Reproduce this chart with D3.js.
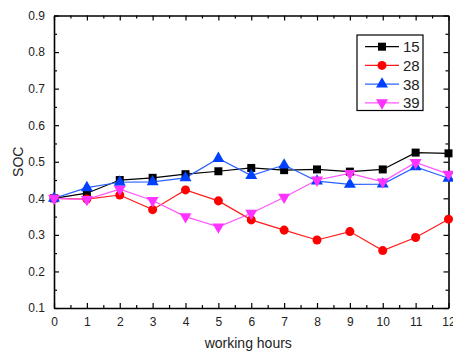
<!DOCTYPE html>
<html>
<head>
<meta charset="utf-8">
<script src="https://cdn.jsdelivr.net/npm/d3@7"></script>
<style>
  body { margin: 0; background: #fff; }
  text { font-family: "Liberation Sans", Arial, sans-serif; fill: #222; }
</style>
</head>
<body>
<div id="chart"></div>
<script>
// data
const hours = [0, 1, 2, 3, 4, 5, 6, 7, 8, 9, 10, 11, 12];
const soc15 = [0.400, 0.414, 0.450, 0.456, 0.466, 0.474, 0.483, 0.477, 0.479, 0.473, 0.479, 0.525, 0.523];
const soc28 = [0.400, 0.398, 0.409, 0.369, 0.423, 0.393, 0.341, 0.313, 0.286, 0.309, 0.257, 0.293, 0.343];
const soc38 = [0.400, 0.429, 0.444, 0.445, 0.456, 0.509, 0.462, 0.491, 0.447, 0.438, 0.439, 0.486, 0.455];
const soc39 = [0.400, 0.397, 0.425, 0.394, 0.350, 0.322, 0.359, 0.403, 0.450, 0.468, 0.445, 0.498, 0.466];
const seriesNames = ["15", "28", "38", "39"];
const yTicks = [0.1, 0.2, 0.3, 0.4, 0.5, 0.6, 0.7, 0.8, 0.9];

const series = [
  { name: seriesNames[0], values: soc15, color: "#000000", line: "#000000", shape: d3.symbolSquare, size: 64, rot: 0 },
  { name: seriesNames[1], values: soc28, color: "#ff0000", line: "#ff1a1a", shape: d3.symbolCircle, size: 64, rot: 0 },
  { name: seriesNames[2], values: soc38, color: "#0040ff", line: "#2a62ff", shape: d3.symbolTriangle, size: 62, rot: 0 },
  { name: seriesNames[3], values: soc39, color: "#ff33ff", line: "#ff55ff", shape: d3.symbolTriangle, size: 62, rot: 180 }
];

const W = 453, H = 355;
const margin = { top: 15.5, right: 4.5, bottom: 47, left: 54 },
    width = W - margin.left - margin.right,
    height = H - margin.top - margin.bottom;

const svg = d3.select("#chart")
    .append("svg")
    .attr("width", W)
    .attr("height", H)
    .append("g")
    .attr("transform", `translate(${margin.left},${margin.top})`);

const x = d3.scaleLinear().domain([0, 12]).range([0, width]);
const y = d3.scaleLinear().domain([0.1, 0.9]).range([height, 0]);

const xMinor = d3.range(0.5, 12, 1);
const yMinor = d3.range(0.15, 0.9, 0.1);

function styleAxis(g) {
  g.select(".domain").attr("stroke", "#000").attr("stroke-width", 1.6);
  g.selectAll(".tick line").attr("stroke", "#000").attr("stroke-width", 1.2);
  g.selectAll(".tick text").style("font-size", "12px").attr("fill", "#222");
}

// bottom axis (ticks inward)
svg.append("g")
    .attr("transform", `translate(0,${height})`)
    .call(d3.axisBottom(x).tickValues(hours).tickSizeInner(-5).tickSizeOuter(0).tickPadding(9).tickFormat(d3.format("d")))
    .call(styleAxis);
svg.append("g")
    .attr("transform", `translate(0,${height})`)
    .call(d3.axisBottom(x).tickValues(xMinor).tickSize(-3).tickFormat(""))
    .call(g => g.select(".domain").remove())
    .call(styleAxis);

// top axis
svg.append("g")
    .call(d3.axisTop(x).tickValues(hours).tickSizeInner(-5).tickSizeOuter(0).tickFormat(""))
    .call(styleAxis);
svg.append("g")
    .call(d3.axisTop(x).tickValues(xMinor).tickSize(-3).tickFormat(""))
    .call(g => g.select(".domain").remove())
    .call(styleAxis);

// left axis
svg.append("g")
    .call(d3.axisLeft(y).tickValues(yTicks).tickSizeInner(-5).tickSizeOuter(0).tickPadding(9).tickFormat(d3.format(".1f")))
    .call(styleAxis);
svg.append("g")
    .call(d3.axisLeft(y).tickValues(yMinor).tickSize(-3).tickFormat(""))
    .call(g => g.select(".domain").remove())
    .call(styleAxis);

// right axis
svg.append("g")
    .attr("transform", `translate(${width},0)`)
    .call(d3.axisRight(y).tickValues(yTicks).tickSizeInner(-5).tickSizeOuter(0).tickFormat(""))
    .call(styleAxis);
svg.append("g")
    .attr("transform", `translate(${width},0)`)
    .call(d3.axisRight(y).tickValues(yMinor).tickSize(-3).tickFormat(""))
    .call(g => g.select(".domain").remove())
    .call(styleAxis);

// axis titles
svg.append("text")
    .attr("x", width / 2 - 3)
    .attr("y", height + 40)
    .attr("text-anchor", "middle")
    .style("font-size", "14px")
    .text("working hours");

svg.append("text")
    .attr("transform", "rotate(-90)")
    .attr("x", -(y(0.5)))
    .attr("y", -31)
    .attr("text-anchor", "middle")
    .style("font-size", "14px")
    .text("SOC");

// lines and markers
const line = d3.line()
    .x((d, i) => x(hours[i]))
    .y(d => y(d));

series.forEach(s => {
  svg.append("path")
      .datum(s.values)
      .attr("fill", "none")
      .attr("stroke", s.line)
      .attr("stroke-width", 1.2)
      .attr("d", line);
});

series.forEach(s => {
  svg.append("g")
    .selectAll("path")
    .data(s.values)
    .join("path")
      .attr("transform", (d, i) => `translate(${x(hours[i])},${y(d)}) rotate(${s.rot})`)
      .attr("d", d3.symbol().type(s.shape).size(s.size))
      .attr("fill", s.color);
});

// legend
const lg = svg.append("g")
    .attr("transform", `translate(${357 - margin.left},${35 - margin.top})`);
lg.append("rect")
    .attr("width", 66)
    .attr("height", 75.5)
    .attr("fill", "#fff")
    .attr("stroke", "#000")
    .attr("stroke-width", 1.2);

series.forEach((s, i) => {
  const ry = 11.7 + i * 18.7;
  lg.append("line")
      .attr("x1", 8).attr("x2", 42)
      .attr("y1", ry).attr("y2", ry)
      .attr("stroke", s.line)
      .attr("stroke-width", 1.2);
  lg.append("path")
      .attr("transform", `translate(25,${ry}) rotate(${s.rot})`)
      .attr("d", d3.symbol().type(s.shape).size(s.size))
      .attr("fill", s.color);
  lg.append("text")
      .attr("x", 46)
      .attr("y", ry)
      .attr("dy", "0.36em")
      .style("font-size", "15px")
      .text(s.name);
});
</script>
</body>
</html>
